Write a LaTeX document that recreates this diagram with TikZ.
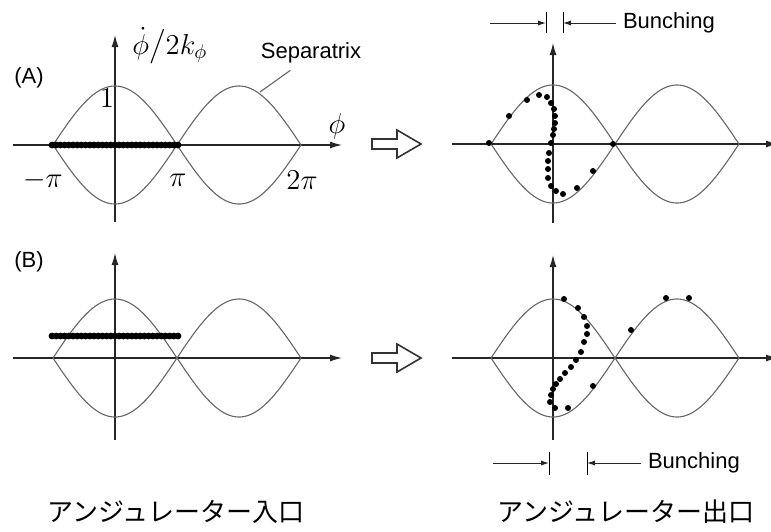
\documentclass[tikz,border=0pt]{standalone}
\usepackage{amsmath}
\usepackage{fontspec}
\setsansfont{Liberation Sans}
\newfontfamily\jpfont{Noto Sans CJK JP}
\usetikzlibrary{arrows.meta}

\begin{document}
\begin{tikzpicture}[x=0.5pt, y=-0.5pt, >={Latex[length=6pt,width=3.5pt]},
  axis/.style={->, line width=0.6pt, black!85},
  sepx/.style={line width=0.55pt, black!60},
  particle/.style={fill=black},
  bunch/.style={-{Latex[length=4pt,width=2.6pt]}, line width=0.5pt, black!85},
  lab/.style={font=\fontsize{11}{13}\selectfont\sffamily},
  mth/.style={font=\fontsize{14}{16}\selectfont},
  jp/.style={font=\fontsize{13}{15}\selectfont\jpfont},
  hollow/.style={line width=0.8pt, black!80, fill=white, line join=miter}]

\useasboundingbox (0,0) rectangle (771,531);

% axes and separatrix of the four panels
\foreach \ox/\oy/\yt/\yb/\xl/\xr in {115/145/35/222/13/342, 553/144/43/223/452/778,
                                     115/358/253/440/13/342, 553/358/255/440/452/778} {
  \draw[axis] (\xl,\oy) -- (\xr,\oy);
  \draw[axis] (\ox,\yb) -- (\ox,\yt);
  \draw[sepx] plot[domain=-180:540, samples=241] ({\ox+\x/180*62}, {\oy-59*abs(cos(\x/2))});
  \draw[sepx] plot[domain=-180:540, samples=241] ({\ox+\x/180*62}, {\oy+59*abs(cos(\x/2))});
}

% hollow arrows between entrance and exit
\foreach \ay in {144,358}
  \draw[hollow] (372,\ay-5) -- (397,\ay-5) -- (397,\ay-14) -- (421,\ay)
     -- (397,\ay+14) -- (397,\ay+5) -- (372,\ay+5) -- cycle;

% (A) entrance: electrons on the axis
\foreach \i in {0,...,30}
  \fill[particle] (52+\i*4.2,145) circle[radius=1.7pt];

% (B) entrance: electrons above the axis
\foreach \i in {0,...,30}
  \fill[particle] (52+\i*4.2,336) circle[radius=1.7pt];

% (A) exit
\foreach \px/\py in {489/143, 509/116, 527/100, 539/95, 547/97, 551/103, 554/109,
    555/116, 555/123, 554/129, 553/135, 551/143, 549/153, 548/161, 548/169,
    548/178, 551/186, 556/191, 563/194, 577/188, 593/171, 613/144}
  \fill[particle] (\px,\py) circle[radius=1.5pt];

% (B) exit
\foreach \px/\py in {564/299, 578/308, 584/317, 587/326, 587/334, 584/342, 581/352,
    576/360, 571/367, 565/373, 560/379, 556/384, 553/389, 551/395, 550/402,
    555/408, 568/408, 593/386, 631/330, 666/298, 689/298}
  \fill[particle] (\px,\py) circle[radius=1.5pt];

% labels of the (A) entrance panel
\node[lab] (labelA) at (29,78) {(A)};
\node[lab] (labelB) at (29,262) {(B)};
\node[mth, anchor=base west, inner sep=1pt] (phidot) at (130,54) {$\dot{\phi}\big/2k_{\phi}$};
\node[mth] (one) at (107,98) {$1$};
\node[mth] (phi) at (337,126) {$\phi$};
\node[mth] (mpi) at (43,180) {$-\pi$};
\node[mth] (pi) at (178,180) {$\pi$};
\node[mth] (twopi) at (302,180) {$2\pi$};
\node[lab] (sep) at (311,53) {Separatrix};
\coordinate (sepend) at (260,92);
\draw[sepx] (sep.-140) -- (sepend);

% bunching width, top
\node[lab, anchor=west] (bunchTop) at (616,23) {Bunching};
\coordinate (btl) at (490,23);
\coordinate (bt1) at (546,23);
\coordinate (bt2) at (563,23);
\draw[line width=0.5pt] (546,12) -- (546,33);
\draw[line width=0.5pt] (563,12) -- (563,33);
\draw[bunch] (btl) -- (bt1);
\draw[bunch] (bunchTop.west) -- (bt2);

% bunching width, bottom
\node[lab, anchor=west] (bunchBot) at (641,463) {Bunching};
\coordinate (bbl) at (493,463);
\coordinate (bb1) at (549,463);
\coordinate (bb2) at (587,463);
\draw[line width=0.5pt] (549,452) -- (549,475);
\draw[line width=0.5pt] (587,452) -- (587,475);
\draw[bunch] (bbl) -- (bb1);
\draw[bunch] (bunchBot.west) -- (bb2);

% undulator entrance / exit
\node[jp] (inlet) at (176,512) {アンジュレーター入口};
\node[jp] (outlet) at (626,512) {アンジュレーター出口};

\end{tikzpicture}
\end{document}
